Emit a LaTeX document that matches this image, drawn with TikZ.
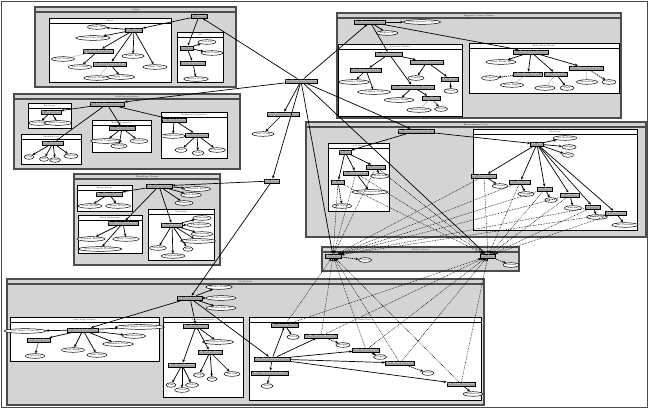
\documentclass[tikz,border=0pt]{standalone}
\usetikzlibrary{arrows.meta,shapes.geometric}
% cluster frame: style, x1, y1, x2, y2, title, name of the title node
\newcommand\grpbox[7]{%
  \draw[#1] (#2,#3) rectangle (#4,#5);
  \draw[#1, fill=none] (#2,#3+5) -- (#4,#3+5);
  \node[ttl] (#7) at ({(#2+#4)/2},#3+2.6) {#6};}
% record box and ellipse nodes: name, x, y, width, text
\newcommand\bxn[5]{\node[bx, minimum width=#4pt] (#1) at (#2,#3) {#5};}
\newcommand\eln[5]{\node[el, minimum width=#4pt] (#1) at (#2,#3) {#5};}
\begin{document}
\begin{tikzpicture}[x=1pt,y=-1pt,
  every node/.style={font=\fontsize{2.4}{2.6}\selectfont, inner sep=0.3pt},
  bx/.style={rectangle, draw=black, line width=0.55pt, fill=black!38, text=white, minimum height=4.2pt},
  el/.style={ellipse, draw=black, line width=0.5pt, fill=white, minimum height=4.6pt},
  ocl/.style={draw=black!70, line width=1.2pt, fill=black!17},
  icl/.style={draw=black, line width=0.75pt, fill=white},
  ttl/.style={font=\fontsize{2}{2.2}\selectfont},
  lnk/.style={-{Stealth[length=3pt,width=2.6pt]}, line width=0.7pt},
  lite/.style={draw=black!30, line width=0.45pt},
  dlnk/.style={lnk, dash pattern=on 1.3pt off 0.8pt},
  dotlnk/.style={-{Stealth[length=3pt,width=2.6pt]}, line width=0.5pt, dash pattern=on 0.7pt off 0.9pt},
]
\useasboundingbox (0,0) rectangle (649,412);
\fill[white] (0,0) rectangle (649,412);
\draw[black!70, line width=0.8pt] (1,1) rectangle (647.5,407);

% ---------- cluster frames ----------
\grpbox{ocl}{35}{7}{236}{87}{Origin}{tOrigin}
\grpbox{icl}{49}{18}{171}{82}{Plant}{tPlant}
\grpbox{icl}{177}{32}{223}{82}{Soil}{tSoil}

\grpbox{ocl}{337}{13}{621}{118}{Regional Control Classes}{tRegional}
\grpbox{icl}{338}{44}{462}{116}{Political Classes}{tPolitical}
\grpbox{icl}{469}{43}{619}{93}{Field View Classes}{tView}

\grpbox{ocl}{14}{94}{240}{169}{Soil Characteristics}{tSoilChar}
\grpbox{icl}{28}{103}{71}{128}{Structure}{tStructure}
\grpbox{icl}{21}{134}{81}{164}{Modeled Soil}{tModeled}
\grpbox{icl}{92}{120}{151}{152}{Water Properties}{tWaterProp}
\grpbox{icl}{161}{112}{227}{158}{Radiation Properties}{tRadiation}

\grpbox{ocl}{74}{174}{220}{265}{Physiology Classes}{tPhysiology}
\grpbox{icl}{77}{185}{132}{211}{Water Status}{tWaterStatus}
\grpbox{icl}{78}{215}{142}{253}{Root Anchorage}{tAnchorage}
\grpbox{icl}{148}{209}{214}{260}{Nutrients}{tNutrients}

\grpbox{ocl}{306}{122}{646}{237}{Environmental Data}{tEnv}
\grpbox{icl}{328}{143}{389}{211}{Soil Data}{tSoilData}
\grpbox{icl}{473}{129}{637}{230}{Air Data}{tAirData}

\grpbox{ocl}{322}{247}{519}{271}{Water Classes}{tWater}

\grpbox{ocl}{7}{279}{484}{405}{Model Data}{tModel}
\grpbox{icl}{10}{317}{159}{361}{Leaf Angle Classes}{tLeaf}
\grpbox{icl}{163}{317}{243}{397}{Rooting Properties}{tRooting}
\grpbox{icl}{249}{317}{481}{400}{Field Data}{tField}

% ---------- nodes ----------
% central hub
\bxn{hub}{301}{81}{30}{Ps. Plant Soil System}
\bxn{obs}{283}{114}{30}{Ob. Observation Unit}
\eln{obsid}{263}{134}{19}{Unit Code}
\bxn{phase}{272}{181}{15}{Ph. Phase}

% origin
\bxn{org}{199}{16}{16}{O. Origin}
\bxn{pl}{134}{30}{17}{Pl. Plant}
\eln{pl1}{97}{27}{19}{Plant ID}
\eln{pl2}{93}{38}{29}{Plant Life Stage}
\bxn{pl3}{98}{51}{30}{Pl. Plant Part Type}
\bxn{pl4}{110}{64}{33}{Pl. Plant Organ Type}
\eln{pl5}{133}{56}{22}{Plant Size}
\eln{pl6}{155}{67}{24}{Plant Age}
\eln{pl7}{63}{59}{20}{Part Name}
\eln{pl8}{80}{67}{22}{Part Count}
\eln{pl9}{97}{78}{20}{Organ Name}
\eln{pl10}{121}{77}{20}{Organ Count}
\bxn{so}{187}{48}{13}{So. Soil}
\eln{so1}{207}{42}{18}{Soil ID}
\eln{so2}{212}{53}{19}{Soil Name}
\bxn{so3}{193}{63}{25}{So. Soil Series}
\eln{so4}{196}{79}{18}{Series Code}

% regional control
\bxn{rc}{370}{22}{28}{Rc. Regional Control}
\eln{rc1}{422}{22}{28}{Management Unit}
\eln{rc2}{387}{33}{18}{Region ID}
\bxn{po}{389}{54}{27}{Po. Political Unit}
\bxn{po1}{427}{62}{33}{Po. Local Government}
\bxn{po2}{366}{70}{31}{Po. National Unit}
\eln{po3}{354}{82}{25}{Country Name}
\eln{po4}{374}{92}{33}{Country Code}
\bxn{po5}{413}{87}{43}{Po. Administrative District}
\eln{po6}{416}{78}{16}{County}
\bxn{po7}{450}{79}{17}{Po. Town}
\eln{po8}{451}{91}{14}{Town}
\bxn{po9}{431}{98}{18}{Po. Ward}
\eln{po10}{399}{100}{22}{District Name}
\eln{po11}{419}{110}{20}{Ward Name}
\eln{po12}{441}{109}{13}{Ward}
\bxn{fv}{531}{52}{35}{Fv. Field View Position}
\eln{fv1}{501}{62}{26}{View Point ID}
\bxn{fv2}{528}{74}{29}{Fv. Row Angle}
\bxn{fv3}{556}{74}{23}{Fv. Azimuth}
\bxn{fv4}{586}{68}{34}{Fv. Elevation Angle}
\eln{fv5}{490}{78}{17}{Degree}
\eln{fv6}{512}{85}{19}{Row Angle}
\eln{fv7}{545}{88}{20}{Azimuth}
\eln{fv8}{567}{88}{14}{Unit}
\eln{fv9}{587}{82}{21}{Elevation}
\eln{fv10}{609}{82}{14}{Unit}

% soil characteristics
\bxn{sc}{107}{104}{31}{Sc. Soil Characteristics}
\bxn{st}{51}{112}{18}{St. Structure}
\eln{st1}{39}{123}{16}{Soil Type}
\eln{st2}{58}{123}{20}{Bulk Density}
\bxn{ms}{53}{143}{21}{Ms. Horizons}
\eln{ms1}{29}{157}{10}{Clay}
\eln{ms2}{44}{159}{9}{Silt}
\eln{ms3}{55}{160}{10}{Sand}
\eln{ms4}{71}{156}{12}{Gravel}
\bxn{wp}{122}{128}{20}{Wp. Water Props}
\eln{wp1}{106}{141}{22}{Field Capacity}
\eln{wp2}{119}{146}{15}{Wilting}
\eln{wp3}{139}{141}{14}{Porosity}
\bxn{rp}{174}{120}{20}{Rp. Soil Albedo}
\eln{rp1}{173}{136}{17}{Reflectance}
\bxn{rp2}{197}{135}{23}{Rp. Soil Colour}
\eln{rp3}{181}{150}{12}{Hue}
\eln{rp4}{198}{153}{11}{Value}
\eln{rp5}{217}{150}{16}{Chroma}

% physiology
\bxn{ph}{159}{186}{26}{Ph. Physiology}
\eln{ph1}{197}{189}{17}{Growth Rate}
\eln{ph2}{191}{195}{18}{Leaf Area}
\eln{ph3}{184}{203}{18}{Stomata}
\bxn{ws}{109}{194}{24}{Ws. Water Status}
\eln{ws1}{90}{206}{20}{Leaf Water}
\eln{ws2}{118}{206}{22}{Stem Water}
\bxn{ra}{123}{223}{26}{Ra. Root Anchorage}
\eln{ra1}{91}{239}{22}{Anchor Force}
\eln{ra2}{126}{239}{24}{Root Length}
\eln{ra3}{100}{249}{33}{Root Length Density}
\bxn{nu}{172}{225}{20}{Nu. Nutrients}
\eln{nu1}{202}{218}{18}{Nitrogen}
\eln{nu2}{199}{225}{15}{Phosphorus}
\eln{nu3}{202}{234}{12}{Potassium}
\eln{nu4}{198}{241}{25}{Calcium Content}
\eln{nu5}{188}{249}{10}{Iron}
\eln{nu6}{158}{248}{15}{Sulphur}
\eln{nu7}{173}{256}{23}{Magnesium}

% environmental data
\bxn{en}{416}{131}{30}{En. Environmental Data}
\bxn{sd}{345}{152}{12}{Sd. Soil}
\bxn{sd1}{356}{173}{23}{Sd. Temperature}
\eln{sd1e}{370}{192}{20}{Soil Temperature}
\bxn{sd2}{376}{167}{16}{Sd. Moisture}
\eln{sd2e}{380}{176}{13}{Moisture}
\bxn{sd3}{338}{182}{13}{Sd. pH}
\eln{sd3e}{342}{206}{12}{pH Value}
\bxn{ad}{537}{144}{13}{Ad. Air}
\eln{ad1}{565}{138}{15}{Air Station}
\eln{ad2}{569}{147}{10}{Height}
\eln{ad3}{568}{155}{10}{Time}
\bxn{ab1}{484}{176}{19}{Ad. Temperature}
\eln{abe1}{500}{186}{12}{Celsius}
\bxn{ab2}{520}{182}{17}{Ad. Humidity}
\eln{abe2}{526}{194}{12}{Percent}
\bxn{ab3}{545}{189}{15}{Ad. Wind}
\eln{abe3}{551}{200}{12}{Speed}
\bxn{ab4}{570}{195}{15}{Ad. Rainfall}
\eln{abe4}{573}{208}{13}{Amount}
\bxn{ab5}{593}{207}{14}{Ad. Solar}
\eln{abe5}{597}{217}{12}{Radiation}
\bxn{ab6}{616}{213}{21}{Ad. Pressure}
\eln{abe6}{625}{225}{18}{Air Pressure}

% water classes
\bxn{wa}{333}{256}{16}{Wa. Rain}
\eln{wae}{365}{260}{10}{Depth}
\bxn{wb}{488}{256}{14}{Wa. Irrig.}
\eln{wbe}{511}{265}{12}{Volume}

% model data
\bxn{md}{190}{298}{24}{Md. Model Data}
\eln{md1}{219}{287}{22}{Model Name}
\eln{md2}{221}{298}{22}{Model Version}
\eln{md3}{221}{308}{22}{Model Run ID}
\bxn{la}{83}{330}{28}{La. Leaf Angle Class}
\eln{la1}{25}{331}{25}{Leaf Angle Class ID}
\eln{la2}{140}{327}{33}{Leaf Angle Distribution}
\eln{la3}{134}{336}{21}{Inclination}
\eln{la4}{118}{344}{20}{Azimuth Class}
\eln{la5}{97}{355}{20}{Leaf Size}
\eln{la6}{73}{350}{19}{Leaf Shape}
\bxn{la7}{39}{340}{23}{La. Leaf Type}
\eln{la8}{35}{356}{14}{Category}
\bxn{rt}{196}{326}{25}{Rt. Root System}
\eln{rt1}{218}{342}{20}{Rooting Depth}
\bxn{rt2}{210}{352}{24}{Rt. Root Zone}
\eln{rt3}{199}{375}{11}{Top}
\eln{rt4}{212}{379}{10}{Mid}
\eln{rt5}{232}{374}{14}{Bottom}
\bxn{rt6}{182}{365}{22}{Rt. Root Biomass}
\eln{rt7}{171}{385}{10}{Fine}
\eln{rt8}{182}{390}{12}{Coarse}
\eln{rt9}{192}{385}{13}{Total}
\bxn{fd}{272}{359}{36}{Fd. Field Observation}
\bxn{fd1}{285}{325}{24}{Fd. Canopy Cover}
\eln{fd1e}{293}{337}{10}{Cover}
\bxn{fd2}{321}{336}{33}{Fd. Plant Height}
\eln{fd2e}{343}{345}{14}{Height}
\bxn{fd3}{366}{350}{27}{Fd. Leaf Count}
\eln{fd3e}{380}{357}{13}{Count}
\bxn{fd4}{400}{363}{29}{Fd. Biomass Yield}
\eln{fd4e}{428}{373}{12}{Yield}
\bxn{fd5}{461}{384}{27}{Fd. Stem Diameter}
\eln{fd5e}{473}{394}{14}{Diameter}
\bxn{fd6}{270}{373}{37}{Fd. Observation Date}
\eln{fd6e}{267}{386}{12}{Date}

% ---------- connectors ----------
% hub
\foreach \t in {org,rc,sc,obs,phase,en,wa,wb} \draw[lnk] (hub) -- (\t);
\draw[lnk] (obs) -- (obsid);
\draw[lnk] (phase) -- (ph);
\draw[lnk] (phase) -- (md);

% origin
\draw[lnk] (org) -- (pl);
\draw[lnk] (org) -- (so);
\foreach \t in {pl1,pl2,pl3,pl4,pl5,pl6} \draw[lnk] (pl) -- (\t);
\draw[lite] (pl3) -- (pl7);
\draw[lnk] (pl3) -- (pl8);
\draw[lite] (pl4) -- (pl9);
\draw[lnk] (pl4) -- (pl10);
\foreach \t in {so1,so2,so3} \draw[lnk] (so) -- (\t);
\draw[lnk] (so3) -- (so4);

% regional control
\foreach \t in {rc1,rc2,po,fv} \draw[lnk] (rc) -- (\t);
\foreach \t in {po1,po2,po5} \draw[lnk] (po) -- (\t);
\draw[lnk] (po1) -- (po6);
\draw[lnk] (po1) -- (po7);
\draw[lnk] (po7) -- (po8);
\draw[lnk] (po2) -- (po3);
\draw[lnk] (po2) -- (po4);
\draw[lnk] (po5) -- (po10);
\draw[lnk] (po5) -- (po9);
\draw[lite] (po9) -- (po11);
\draw[dlnk] (po9) -- (po12);
\foreach \t in {fv1,fv2,fv3,fv4} \draw[lnk] (fv) -- (\t);
\draw[dlnk] (fv2) -- (fv5);
\draw[lite] (fv2) -- (fv6);
\draw[lite] (fv3) -- (fv7);
\draw[lnk] (fv3) -- (fv8);
\draw[lite] (fv4) -- (fv9);
\draw[dlnk] (fv4) -- (fv10);

% soil characteristics
\foreach \t in {st,ms,wp,rp} \draw[lnk] (sc) -- (\t);
\foreach \t in {st1,st2} \draw[lnk] (st) -- (\t);
\foreach \t in {ms1,ms2,ms3,ms4} \draw[lnk] (ms) -- (\t);
\foreach \t in {wp1,wp2,wp3} \draw[lnk] (wp) -- (\t);
\draw[lnk] (rp) -- (rp1);
\draw[lnk] (rp) -- (rp2);
\foreach \t in {rp3,rp4,rp5} \draw[lnk] (rp2) -- (\t);

% physiology
\foreach \t in {ws,ra,nu,ph1,ph2,ph3} \draw[lnk] (ph) -- (\t);
\foreach \t in {ws1,ws2} \draw[lnk] (ws) -- (\t);
\foreach \t in {ra1,ra2,ra3} \draw[lnk] (ra) -- (\t);
\foreach \t in {nu1,nu2,nu3,nu4,nu5,nu6,nu7} \draw[lnk] (nu) -- (\t);

% environmental data
\draw[lnk] (en) -- (sd);
\draw[lnk] (en) -- (ad);
\foreach \t in {sd1,sd2,sd3} \draw[lnk] (sd) -- (\t);
\draw[lnk] (sd1) -- (sd1e);
\draw[lnk] (sd2) -- (sd2e);
\draw[dlnk] (sd3) -- (sd3e);
\foreach \t in {ad1,ad2,ad3,ab1,ab2,ab3,ab4,ab5,ab6} \draw[lnk] (ad) -- (\t);
\foreach \i in {1,...,6} \draw[lnk] (ab\i) -- (abe\i);

% water classes
\draw[dlnk] (wa) -- (wae);
\draw[dlnk] (wb) -- (wbe);

% model data
\foreach \t in {la,rt,fd,md1,md2,md3} \draw[lnk] (md) -- (\t);
\foreach \t in {la1,la2,la3,la4,la5,la6,la7} \draw[lnk] (la) -- (\t);
\draw[dlnk] (la7) -- (la8);
\draw[lnk] (rt) -- (rt1);
\draw[lnk] (rt) -- (rt2);
\draw[lnk] (rt) -- (rt6);
\foreach \t in {rt3,rt4,rt5} \draw[lnk] (rt2) -- (\t);
\foreach \t in {rt7,rt8,rt9} \draw[lnk] (rt6) -- (\t);
\foreach \t in {fd1,fd2,fd3,fd4,fd5,fd6} \draw[lnk] (fd) -- (\t);
\draw[lnk] (fd1) -- (fd1e);
\draw[dlnk] (fd2) -- (fd2e);
\draw[lnk] (fd3) -- (fd3e);
\draw[dlnk] (fd4) -- (fd4e);
\draw[lnk] (fd5) -- (fd5e);
\draw[dlnk] (fd6) -- (fd6e);

% links into the water classes
\foreach \s in {sd1,sd2,sd3,ab1,ab2,ab3,ab4,ab5,ab6,fd1,fd2,fd3,fd4,fd5} {
  \draw[dotlnk] (\s) -- (wa);
  \draw[dotlnk] (\s) -- (wb);
}
\end{tikzpicture}
\end{document}
